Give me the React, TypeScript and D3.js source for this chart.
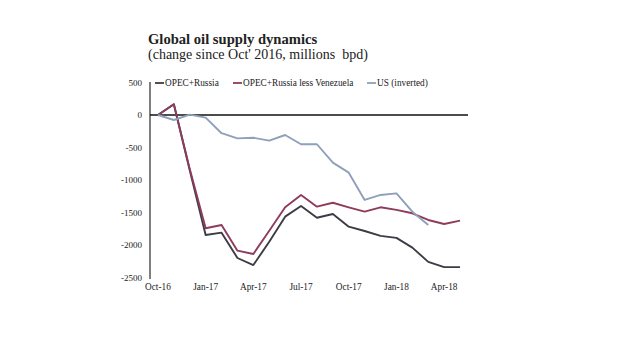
import React from "react";
import * as d3 from "d3";

const months = ["Oct-16","Nov-16","Dec-16","Jan-17","Feb-17","Mar-17","Apr-17","May-17","Jun-17","Jul-17","Aug-17","Sep-17","Oct-17","Nov-17","Dec-17","Jan-18","Feb-18","Mar-18","Apr-18","May-18"];
const tickLabels = ["Oct-16","Jan-17","Apr-17","Jul-17","Oct-17","Jan-18","Apr-18"];
const yTicks = [500, 0, -500, -1000, -1500, -2000, -2500];

const opecRussia = [0, 165, -850, -1846, -1810, -2200, -2308, -1950, -1564, -1400, -1580, -1523, -1718, -1785, -1860, -1890, -2040, -2260, -2340, -2340];
const opecLessVen = [0, 165, -830, -1743, -1692, -2087, -2138, -1780, -1420, -1230, -1410, -1350, -1420, -1487, -1420, -1460, -1512, -1615, -1677, -1626];
const usInverted = [0, -77, 5, -40, -280, -360, -350, -395, -308, -450, -450, -733, -887, -1307, -1230, -1205, -1487, -1692];

const seriesNames = ["OPEC+Russia", "OPEC+Russia less Venezuela", "US (inverted)"];
const colors = ["#3c3c46", "#8e3b5c", "#8fa0bb"];

export default function App() {
  const width = 620, height = 355;
  const x = d3.scaleBand<string>().domain(months).range([150, 468]);
  const cx = (m: string) => (x(m) as number) + x.bandwidth() / 2;
  const y = d3.scaleLinear().domain([-2500, 500]).range([277.5, 82.5]);
  const line = d3.line<number>().x((_, i) => cx(months[i])).y(d => y(d));
  const data = [opecRussia, opecLessVen, usInverted];
  const font = "'Liberation Serif', 'DejaVu Serif', serif";
  const legendX = [155, 233, 367];
  return (
    <svg width={width} height={height} style={{ position: "absolute", left: 0, top: 0, background: "#fff" }} fontFamily={font}>
      <text x={148} y={44} fontSize={14.6} fontWeight="bold" fill="#222">Global oil supply dynamics</text>
      <text x={148} y={59} fontSize={14} fill="#222" style={{ whiteSpace: "pre" }}>{"(change since Oct' 2016, millions  bpd)"}</text>
      {yTicks.map(t => (
        <text key={t} x={142} y={y(t) + 3} fontSize={9} textAnchor="end" fill="#222">{t}</text>
      ))}
      <line x1={150} x2={150} y1={82} y2={279} stroke="#555" strokeWidth={1.5} />
      <line x1={150} x2={468} y1={y(0)} y2={y(0)} stroke="#111" strokeWidth={1.3} />
      {tickLabels.map(t => (
        <text key={t} x={cx(t)} y={290} fontSize={9.3} textAnchor="middle" fill="#222">{t}</text>
      ))}
      {data.map((d, i) => (
        <path key={i} d={line(d) as string} fill="none" stroke={colors[i]} strokeWidth={1.9} strokeLinejoin="round" />
      ))}
      {seriesNames.map((n, i) => (
        <g key={n}>
          <line x1={legendX[i]} x2={legendX[i] + 9} y1={83} y2={83} stroke={colors[i]} strokeWidth={1.8} />
          <text x={legendX[i] + 10} y={86} fontSize={9.3} fill="#222">{n}</text>
        </g>
      ))}
    </svg>
  );
}
